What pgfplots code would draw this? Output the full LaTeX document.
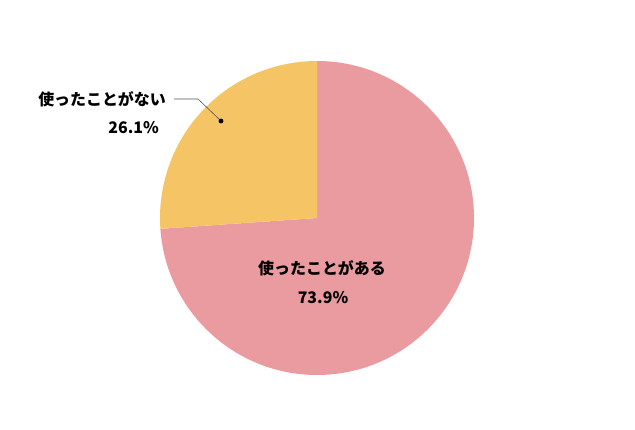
\documentclass[border=0pt]{standalone}
\usepackage{fontspec}
\usepackage{pgfplots}
\usepackage{pgfplotstable}
\pgfplotsset{compat=1.18}
\newfontfamily\jp{Noto Sans CJK JP}
\definecolor{pieRed}{HTML}{EA9BA0}
\definecolor{pieYellow}{HTML}{F4C465}
\definecolor{leader}{HTML}{555555}

% share of answers, percent
\pgfplotstableread{
label value
used 73.9
never 26.1
}\sharetable

\begin{document}
\begin{tikzpicture}
\pgfplotstablegetelem{0}{value}\of\sharetable\let\usedval\pgfplotsretval
\pgfplotstablegetelem{1}{value}\of\sharetable\let\neverval\pgfplotsretval
\pgfmathsetmacro{\splitangle}{90+3.6*\neverval}
\begin{axis}[
  scale only axis,
  width=635bp, height=430bp,
  xmin=0, xmax=635, ymin=0, ymax=430,
  hide axis,
  clip=false]
  \path (axis cs:0,0) rectangle (axis cs:635,430);
  % slices start at 12 o'clock, clockwise
  \fill[pieRed] (axis cs:317,212) -- (axis cs:317,369)
    arc[start angle=90, end angle=\splitangle-360, radius=157bp] -- cycle;
  \fill[pieYellow] (axis cs:317,212) -- (axis cs:317,369)
    arc[start angle=90, end angle=\splitangle, radius=157bp] -- cycle;

  \draw[leader, line width=0.6pt] (axis cs:174,331) -- (axis cs:198,331) -- (axis cs:221,309);
  \fill[black] (axis cs:221,309) circle[radius=2.4bp];

  \node[anchor=east, font=\jp\bfseries\fontsize{16}{18}\selectfont, inner sep=0pt]
    at (axis cs:166,331) {使ったことがない};
  \node[anchor=east, font=\jp\bfseries\fontsize{16}{18}\selectfont, inner sep=0pt]
    at (axis cs:159,302) {\neverval\%};
  \node[anchor=center, font=\jp\bfseries\fontsize{16}{18}\selectfont, inner sep=0pt]
    at (axis cs:322,162) {使ったことがある};
  \node[anchor=center, font=\jp\bfseries\fontsize{16}{18}\selectfont, inner sep=0pt]
    at (axis cs:323,132) {\usedval\%};
\end{axis}
\end{tikzpicture}
\end{document}
